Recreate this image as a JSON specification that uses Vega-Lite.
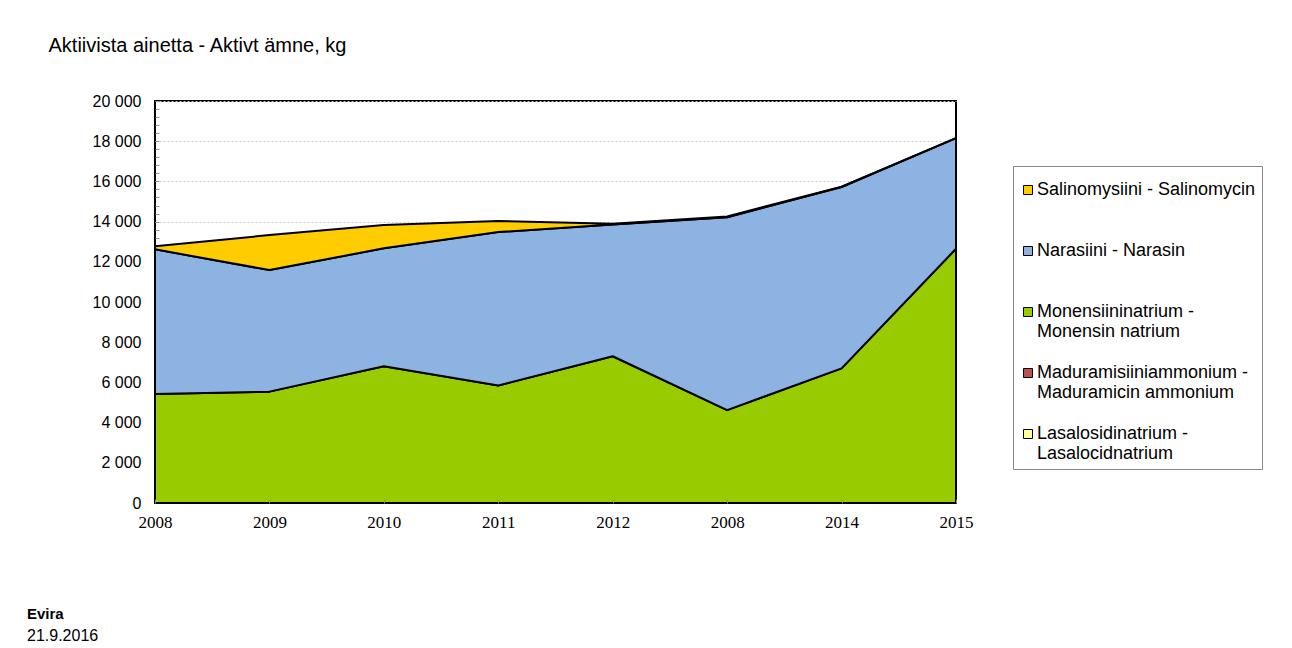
{
  "$schema": "https://vega.github.io/schema/vega-lite/v6.json",
  "width": 801,
  "height": 402,
  "autosize": {"type": "none"},
  "padding": {"left": 155, "top": 101, "right": 336, "bottom": 145},
  "background": "white",
  "config": {
    "font": "Liberation Sans",
    "view": {"stroke": "black", "strokeWidth": 2}
  },
  "title": {
    "text": "Evira",
    "subtitle": "21.9.2016",
    "orient": "bottom",
    "anchor": "start",
    "frame": "group",
    "dx": -128,
    "offset": 77,
    "font": "Liberation Sans",
    "fontSize": 15,
    "fontWeight": "bold",
    "color": "black",
    "subtitleFont": "Liberation Sans",
    "subtitleFontSize": 16,
    "subtitleColor": "black",
    "subtitlePadding": 6
  },
  "data": {
    "values": [
      {"year": "2008", "series": "Monensiininatrium - Monensin natrium", "kg": 5420},
      {"year": "2009", "series": "Monensiininatrium - Monensin natrium", "kg": 5540},
      {"year": "2010", "series": "Monensiininatrium - Monensin natrium", "kg": 6800},
      {"year": "2011", "series": "Monensiininatrium - Monensin natrium", "kg": 5850},
      {"year": "2012", "series": "Monensiininatrium - Monensin natrium", "kg": 7300},
      {"year": "2008 ", "series": "Monensiininatrium - Monensin natrium", "kg": 4620},
      {"year": "2014", "series": "Monensiininatrium - Monensin natrium", "kg": 6700},
      {"year": "2015", "series": "Monensiininatrium - Monensin natrium", "kg": 12650},
      {"year": "2008", "series": "Narasiini - Narasin", "kg": 7200},
      {"year": "2009", "series": "Narasiini - Narasin", "kg": 6050},
      {"year": "2010", "series": "Narasiini - Narasin", "kg": 5870},
      {"year": "2011", "series": "Narasiini - Narasin", "kg": 7630},
      {"year": "2012", "series": "Narasiini - Narasin", "kg": 6560},
      {"year": "2008 ", "series": "Narasiini - Narasin", "kg": 9600},
      {"year": "2014", "series": "Narasiini - Narasin", "kg": 9020},
      {"year": "2015", "series": "Narasiini - Narasin", "kg": 5500},
      {"year": "2008", "series": "Salinomysiini - Salinomycin", "kg": 150},
      {"year": "2009", "series": "Salinomysiini - Salinomycin", "kg": 1740},
      {"year": "2010", "series": "Salinomysiini - Salinomycin", "kg": 1160},
      {"year": "2011", "series": "Salinomysiini - Salinomycin", "kg": 550},
      {"year": "2012", "series": "Salinomysiini - Salinomycin", "kg": 30},
      {"year": "2008 ", "series": "Salinomysiini - Salinomycin", "kg": 40},
      {"year": "2014", "series": "Salinomysiini - Salinomycin", "kg": 20},
      {"year": "2015", "series": "Salinomysiini - Salinomycin", "kg": 0},
      {"year": "2008", "series": "Maduramisiiniammonium - Maduramicin ammonium", "kg": 0},
      {"year": "2009", "series": "Maduramisiiniammonium - Maduramicin ammonium", "kg": 0},
      {"year": "2010", "series": "Maduramisiiniammonium - Maduramicin ammonium", "kg": 0},
      {"year": "2011", "series": "Maduramisiiniammonium - Maduramicin ammonium", "kg": 0},
      {"year": "2012", "series": "Maduramisiiniammonium - Maduramicin ammonium", "kg": 0},
      {"year": "2008 ", "series": "Maduramisiiniammonium - Maduramicin ammonium", "kg": 0},
      {"year": "2014", "series": "Maduramisiiniammonium - Maduramicin ammonium", "kg": 0},
      {"year": "2015", "series": "Maduramisiiniammonium - Maduramicin ammonium", "kg": 0},
      {"year": "2008", "series": "Lasalosidinatrium - Lasalocidnatrium", "kg": 0},
      {"year": "2009", "series": "Lasalosidinatrium - Lasalocidnatrium", "kg": 0},
      {"year": "2010", "series": "Lasalosidinatrium - Lasalocidnatrium", "kg": 0},
      {"year": "2011", "series": "Lasalosidinatrium - Lasalocidnatrium", "kg": 0},
      {"year": "2012", "series": "Lasalosidinatrium - Lasalocidnatrium", "kg": 0},
      {"year": "2008 ", "series": "Lasalosidinatrium - Lasalocidnatrium", "kg": 0},
      {"year": "2014", "series": "Lasalosidinatrium - Lasalocidnatrium", "kg": 0},
      {"year": "2015", "series": "Lasalosidinatrium - Lasalocidnatrium", "kg": 0}
    ]
  },
  "mark": {"type": "area", "stroke": "black", "strokeWidth": 2, "strokeJoin": "round", "opacity": 1, "fillOpacity": 1},
  "encoding": {
    "x": {
      "field": "year",
      "type": "ordinal",
      "sort": null,
      "scale": {"type": "point", "padding": 0},
      "axis": {
        "title": null,
        "labelAngle": 0,
        "labelExpr": "trim(datum.label)",
        "labelFont": "Liberation Serif",
        "labelFontSize": 17,
        "labelColor": "black",
        "labelPadding": 15,
        "domain": false,
        "ticks": true,
        "tickSize": -4,
        "tickColor": "#888",
        "grid": false,
        "zindex": 1
      }
    },
    "y": {
      "field": "kg",
      "type": "quantitative",
      "stack": "zero",
      "scale": {"domain": [0, 20000], "nice": false},
      "axis": {
        "title": "Aktiivista ainetta - Aktivt ämne, kg",
        "titleAngle": 0,
        "titleAlign": "left",
        "titleBaseline": "alphabetic",
        "titleX": -107,
        "titleY": -50,
        "titleFont": "Liberation Sans",
        "titleFontSize": 20,
        "titleFontWeight": "normal",
        "titleColor": "black",
        "values": [0, 400, 800, 1200, 1600, 2000, 2400, 2800, 3200, 3600, 4000, 4400, 4800, 5200, 5600, 6000, 6400, 6800, 7200, 7600, 8000, 8400, 8800, 9200, 9600, 10000, 10400, 10800, 11200, 11600, 12000, 12400, 12800, 13200, 13600, 14000, 14400, 14800, 15200, 15600, 16000, 16400, 16800, 17200, 17600, 18000, 18400, 18800, 19200, 19600, 20000],
        "labelExpr": "datum.value % 2000 === 0 ? replace(format(datum.value, ','), ',', ' ') : ''",
        "labelFont": "Liberation Sans",
        "labelFontSize": 16,
        "labelColor": "black",
        "labelPadding": 18,
        "labelOverlap": false,
        "domain": false,
        "ticks": true,
        "tickSize": -4,
        "tickColor": "#999",
        "grid": true,
        "gridColor": "#c8c8c8",
        "gridDash": [2, 2],
        "gridWidth": 1,
        "gridOpacity": {"condition": {"test": "datum.value % 2000 === 0", "value": 1}, "value": 0}
      }
    },
    "order": {"field": "series", "sort": "ascending"},
    "color": {
      "field": "series",
      "type": "nominal",
      "scale": {
        "domain": ["Salinomysiini - Salinomycin", "Narasiini - Narasin", "Monensiininatrium - Monensin natrium", "Maduramisiiniammonium - Maduramicin ammonium", "Lasalosidinatrium - Lasalocidnatrium"],
        "range": ["#FFCC00", "#8DB3E2", "#99CC00", "#C0504D", "#FFFF99"]
      },
      "legend": {
        "title": " ",
        "titleFontSize": 1,
        "titlePadding": 8,
        "orient": "none",
        "legendX": 858,
        "legendY": 65,
        "padding": 6,
        "strokeColor": "#888",
        "fillColor": "white",
        "symbolType": "square",
        "symbolSize": 81,
        "symbolStrokeColor": "black",
        "symbolStrokeWidth": 1,
        "symbolOpacity": 1,
        "labelFont": "Liberation Sans",
        "labelFontSize": 18,
        "labelColor": "black",
        "labelLineHeight": 21,
        "labelLimit": 300,
        "labelOffset": 0,
        "rowPadding": 23,
        "labelExpr": "length(datum.label) > 30 ? [split(datum.label, ' - ')[0] + ' -', split(datum.label, ' - ')[1]] : [datum.label, '']"
      }
    }
  }
}
